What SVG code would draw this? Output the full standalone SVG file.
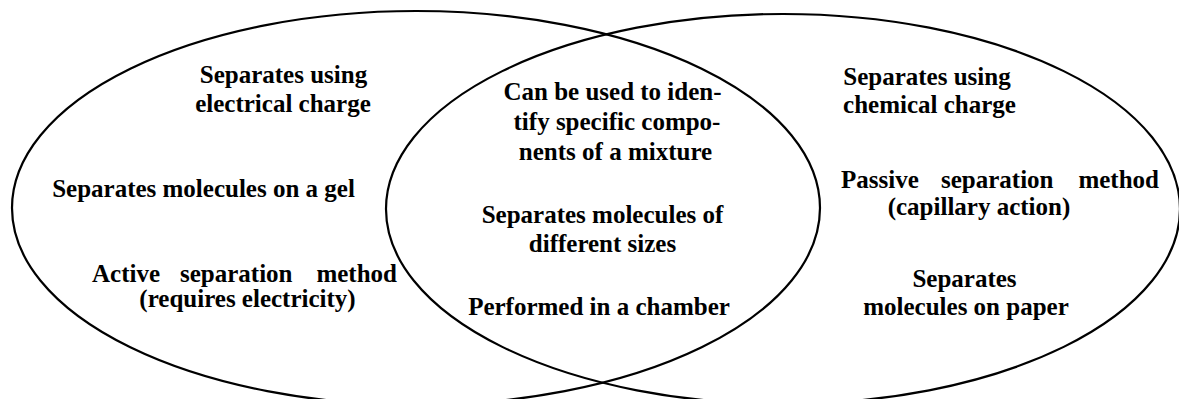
<svg xmlns="http://www.w3.org/2000/svg" width="1179" height="399" viewBox="0 0 1179 399">
<style>
.c{fill:none;stroke:#000;stroke-width:2.2}
text{font-family:'Liberation Serif','Times New Roman','DejaVu Serif',serif;font-weight:bold;font-size:25px;fill:#000}
.m{text-anchor:middle}
.e{text-anchor:end}
</style>
<rect width="1179" height="399" fill="#fff"/>
<g id="left-set">
<ellipse class="c" cx="416" cy="208" rx="404" ry="197"/>
<text class="m" x="283.5" y="83">Separates using</text>
<text class="m" x="283" y="112">electrical charge</text>
<text class="m" x="203.5" y="197">Separates molecules on a gel</text>
<text x="92" y="282">Active</text>
<text x="180" y="282">separation</text>
<text class="e" x="397" y="282">method</text>
<text class="m" x="247.5" y="307">(requires electricity)</text>
</g>
<g id="right-set">
<ellipse class="c" cx="783" cy="209" rx="397" ry="195"/>
<text class="m" x="927" y="85">Separates using</text>
<text class="m" x="929.5" y="113">chemical charge</text>
<text x="841" y="188">Passive</text>
<text x="941" y="188">separation</text>
<text class="e" x="1159" y="188">method</text>
<text class="m" x="979" y="215">(capillary action)</text>
<text class="m" x="964.5" y="287">Separates</text>
<text class="m" x="966" y="315">molecules on paper</text>
</g>
<g id="overlap">
<text class="m" x="612.5" y="100">Can be used to iden-</text>
<text class="m" x="617" y="130">tify specific compo-</text>
<text class="m" x="615.5" y="160">nents of a mixture</text>
<text class="m" x="602.5" y="223">Separates molecules of</text>
<text class="m" x="602.5" y="252">different sizes</text>
<text class="m" x="599" y="315">Performed in a chamber</text>
</g>
<g id="connectors"></g>
</svg>
